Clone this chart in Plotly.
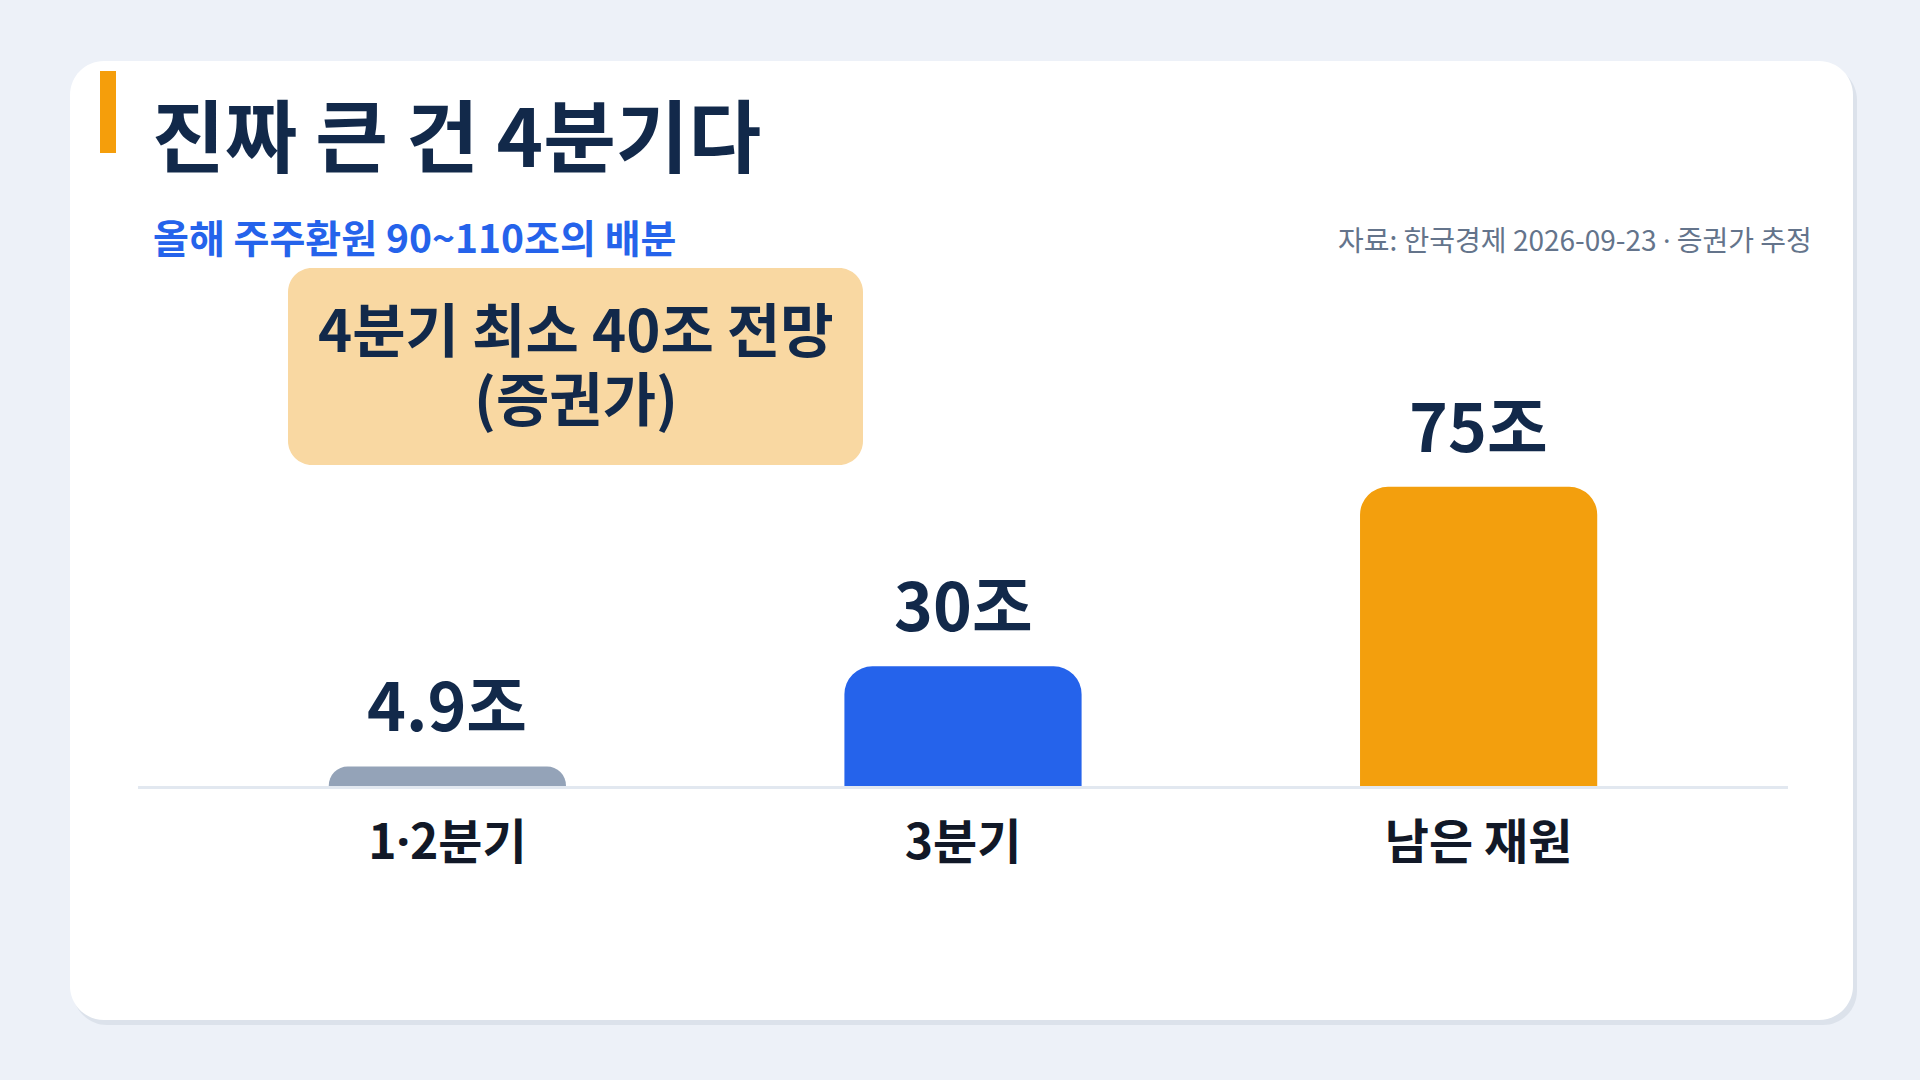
import plotly.graph_objects as go

# ---- data ----
categories = ["1·2분기", "3분기", "남은 재원"]
values = [4.9, 30, 75]
value_labels = ["4.9조", "30조", "75조"]
bar_colors = ["#94A3B8", "#2563EB", "#F39F0D"]

title_text = "진짜 큰 건 4분기다"
subtitle_text = "올해 주주환원 90~110조의 배분"
source_text = "자료: 한국경제 2026-09-23 · 증권가 추정"
callout_lines = ["4분기 최소 40조 전망", "(증권가)"]

W, H = 1920, 1080
FONT = "Noto Sans CJK KR"
NAVY = "#12294A"
BG = "#EDF1F8"
NARROW_DOT = "<span style='font-family:Noto Sans'>·</span>"


def narrow(s):
    return s.replace("·", NARROW_DOT)


def px(x):
    return x / W


def py(y):
    return 1 - y / H


def rounded_rect(x0, y0, x1, y1, r):
    k = 0.5523 * r
    pts = [
        f"M {px(x0 + r)},{py(y0)}",
        f"L {px(x1 - r)},{py(y0)}",
        f"C {px(x1 - r + k)},{py(y0)} {px(x1)},{py(y0 + r - k)} {px(x1)},{py(y0 + r)}",
        f"L {px(x1)},{py(y1 - r)}",
        f"C {px(x1)},{py(y1 - r + k)} {px(x1 - r + k)},{py(y1)} {px(x1 - r)},{py(y1)}",
        f"L {px(x0 + r)},{py(y1)}",
        f"C {px(x0 + r - k)},{py(y1)} {px(x0)},{py(y1 - r + k)} {px(x0)},{py(y1 - r)}",
        f"L {px(x0)},{py(y0 + r)}",
        f"C {px(x0)},{py(y0 + r - k)} {px(x0 + r - k)},{py(y0)} {px(x0 + r)},{py(y0)}",
        "Z",
    ]
    return " ".join(pts)


# plot area geometry (pixels)
PLOT_L, PLOT_R = 138, 1788
BASE_Y, TOP_Y = 786, 300
PX_PER_UNIT = 3.99
YMAX = (BASE_Y - TOP_Y) / PX_PER_UNIT

fig = go.Figure()
fig.add_trace(
    go.Bar(
        x=categories,
        y=values,
        marker=dict(color=bar_colors, line=dict(width=0)),
        width=0.46,
        hoverinfo="skip",
    )
)

shapes = [
    # card shadow
    dict(type="path", xref="paper", yref="paper",
         path=rounded_rect(73, 66, 1857, 1025, 34),
         fillcolor="#DCE2EB", line=dict(width=0), layer="below"),
    # card
    dict(type="path", xref="paper", yref="paper",
         path=rounded_rect(70, 61, 1853, 1020, 34),
         fillcolor="#FFFFFF", line=dict(width=0), layer="below"),
    # accent bar
    dict(type="rect", xref="paper", yref="paper",
         x0=px(100), x1=px(116), y0=py(153), y1=py(71),
         fillcolor="#F59E0B", line=dict(width=0), layer="below"),
    # callout box
    dict(type="path", xref="paper", yref="paper",
         path=rounded_rect(288, 268, 863, 465, 24),
         fillcolor="#F9D8A2", line=dict(width=0), layer="above"),
]

annotations = [
    dict(text=f"<b>{title_text}</b>", xref="paper", yref="paper",
         x=px(150), y=py(132), xanchor="left", yanchor="middle",
         showarrow=False, font=dict(family=FONT, size=79, color=NAVY)),
    dict(text=f"<b>{subtitle_text}</b>", xref="paper", yref="paper",
         x=px(151), y=py(236), xanchor="left", yanchor="middle",
         showarrow=False, font=dict(family=FONT, size=39, color="#2563EB")),
    dict(text=narrow(source_text), xref="paper", yref="paper",
         x=px(1814), y=py(239), xanchor="right", yanchor="middle",
         showarrow=False, font=dict(family=FONT, size=28, color="#64748B")),
]

for line, yc in zip(callout_lines, [327, 396]):
    annotations.append(
        dict(text=f"<b>{line}</b>", xref="paper", yref="paper",
             x=px(576), y=py(yc), xanchor="center", yanchor="middle",
             showarrow=False, align="center",
             font=dict(family=FONT, size=58, color=NAVY))
    )

for cat, val, lab in zip(categories, values, value_labels):
    annotations.append(
        dict(text=f"<b>{lab}</b>", x=cat, y=val, xref="x", yref="y",
             xanchor="center", yanchor="middle", yshift=64,
             showarrow=False, font=dict(family=FONT, size=66, color=NAVY))
    )

fig.update_layout(
    width=W, height=H,
    paper_bgcolor=BG, plot_bgcolor="rgba(0,0,0,0)",
    margin=dict(l=0, r=0, t=0, b=0),
    showlegend=False,
    barcornerradius=28,
    shapes=shapes,
    annotations=annotations,
    font=dict(family=FONT),
    xaxis=dict(
        domain=[px(PLOT_L), px(PLOT_R)],
        range=[-0.6, 2.6],
        showgrid=False, zeroline=False,
        showline=True, linecolor="#E2E8F0", linewidth=3,
        layer="below traces",
        ticks="", ticklabelstandoff=12,
        tickmode="array", tickvals=categories,
        ticktext=[narrow(c) for c in categories],
        tickfont=dict(family=FONT, size=48, color="#111827", weight=700),
        fixedrange=True,
    ),
    yaxis=dict(
        domain=[py(BASE_Y), py(TOP_Y)],
        range=[0, YMAX],
        visible=False, fixedrange=True,
    ),
)

fig.write_html(
    "out.html",
    config={"displayModeBar": False},
    post_script="document.body.style.margin='0';document.body.style.background='#EDF1F8';",
)
